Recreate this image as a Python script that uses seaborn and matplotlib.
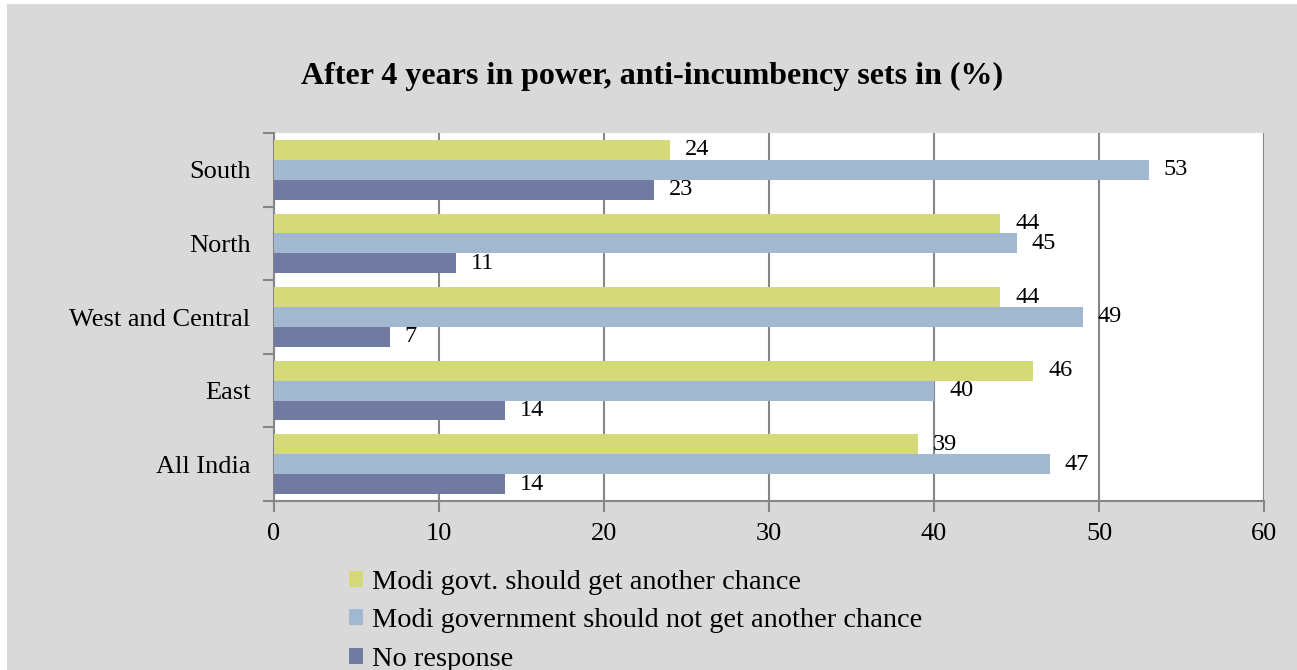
import pandas as pd
import seaborn as sns
import matplotlib.pyplot as plt
from matplotlib.patches import Rectangle

# chart data
regions = ['South', 'North', 'West and Central', 'East', 'All India']
series = ['Modi govt. should get another chance',
          'Modi government should not get another chance',
          'No response']
another_chance = [24, 44, 44, 46, 39]
no_chance = [53, 45, 49, 40, 47]
no_response = [23, 11, 7, 14, 14]
colors = ['#d4da7a', '#a2b8d0', '#717aa0']

rows = []
for name, vals in zip(series, [another_chance, no_chance, no_response]):
    for r, v in zip(regions, vals):
        rows.append({'region': r, 'series': name, 'value': v})
df = pd.DataFrame(rows)

sns.set_style('white')
plt.rcParams['font.family'] = ['Liberation Serif', 'DejaVu Serif']
plt.rcParams['text.color'] = 'black'
plt.rcParams['xtick.color'] = 'black'
plt.rcParams['ytick.color'] = 'black'

fig = plt.figure(figsize=(12.97, 6.70), dpi=100)
fig.patch.set_facecolor('white')
# grey chart area with thin white margin like the source
fig.patches.append(Rectangle((7 / 1297, 0), 1, 1 - 4 / 670, transform=fig.transFigure,
                             facecolor='#d9d9d9', edgecolor='none', zorder=-10))

ax = fig.add_axes([274 / 1297, 1 - 501 / 670, (1264 - 274) / 1297, (501 - 133) / 670])
ax.set_facecolor('white')

sns.barplot(data=df, y='region', x='value', hue='series', orient='h',
            palette=colors, saturation=1, width=0.81, order=regions,
            hue_order=series, ax=ax, zorder=3, linewidth=0)

for cont in ax.containers:
    ax.bar_label(cont, padding=11, fontsize=17.5, color='black')

ax.set_xlim(0, 60)
ax.set_ylim(4.5, -0.5)
ax.set_xticks(range(0, 61, 10))
ax.set_yticks(range(len(regions)))
ax.set_yticks([i - 0.5 for i in range(len(regions) + 1)], minor=True)
ax.tick_params(axis='y', which='major', length=0, pad=17, labelsize=19)
ax.tick_params(axis='y', which='minor', length=8, width=1.5, color='#868686', left=True)
ax.tick_params(axis='x', length=8, width=1.5, color='#868686', labelcolor='black',
               bottom=True, pad=8, labelsize=19)
ax.xaxis.grid(True, color='#868686', linewidth=1.5, zorder=0)
ax.set_axisbelow(True)
ax.set_xlabel('')
ax.set_ylabel('')
for s in ['top', 'right']:
    ax.spines[s].set_visible(False)
for s in ['left', 'bottom']:
    ax.spines[s].set_color('#868686')
    ax.spines[s].set_linewidth(1.5)

fig.text(652 / 1297, 1 - 76 / 670, 'After 4 years in power, anti-incumbency sets in (%)',
         ha='center', va='center', fontsize=23, fontweight='bold')

handles, labels = ax.get_legend_handles_labels()
ax.legend(handles, labels, loc='upper left', bbox_to_anchor=(349 / 1297, 1 - 570 / 670),
          bbox_transform=fig.transFigure, frameon=False, fontsize=20.4,
          handlelength=0.5, handleheight=0.5, handletextpad=0.3, labelspacing=0.47,
          borderaxespad=0, borderpad=0)

fig.savefig('out.png', dpi=100, facecolor=fig.get_facecolor())
